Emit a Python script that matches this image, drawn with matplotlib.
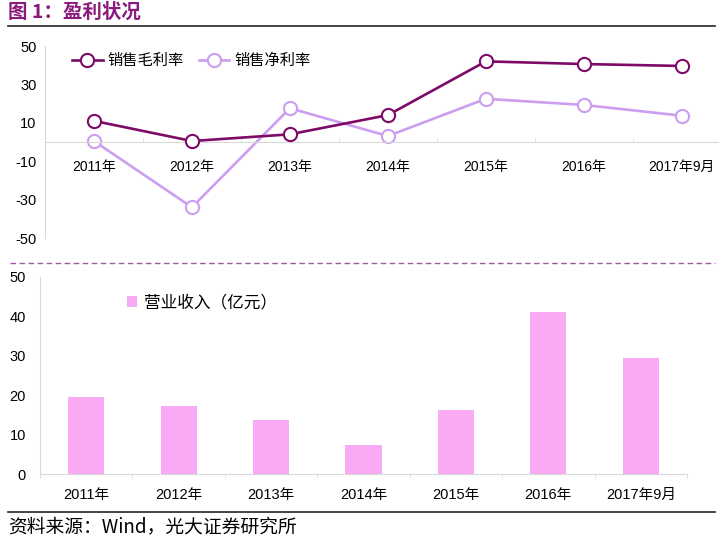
import matplotlib
matplotlib.use("Agg")
import matplotlib.pyplot as plt
from matplotlib.lines import Line2D
import numpy as np

plt.rcParams['font.family'] = ['Liberation Sans', 'Noto Sans CJK SC', 'DejaVu Sans']
plt.rcParams['axes.unicode_minus'] = False

years = ["2011年", "2012年", "2013年", "2014年", "2015年", "2016年", "2017年9月"]
gross_margin = [11.0, 0.5, 4.0, 14.0, 42.0, 40.6, 39.6]
net_margin = [0.5, -34.0, 17.6, 3.1, 22.5, 19.3, 13.7]
revenue = [19.5, 17.3, 13.8, 7.3, 16.3, 41.0, 29.4]

dark = "#7e0a67"
light = "#cd9ef0"
pink = "#f9aaf4"
grid_gray = "#d9d9d9"
cjk = ['Noto Sans CJK SC', 'DejaVu Sans']

fig = plt.figure(figsize=(7.2, 5.41), dpi=100)
W, H = 720, 541

def px_axes(x0, y0, x1, y1):
    return fig.add_axes([x0 / W, 1 - y1 / H, (x1 - x0) / W, (y1 - y0) / H])

# title and separators
fig.text(8 / W, 1 - 12 / H, "图 1：盈利状况", color="#8a1a7c", fontsize=14,
         fontweight="bold", family=cjk, va="center", ha="left")
fig.add_artist(Line2D([8 / W, 715 / W], [1 - 26 / H] * 2, color="#222222", lw=1.2))
fig.add_artist(Line2D([10 / W, 715 / W], [1 - 263 / H] * 2, color="#a05aa0", lw=1.0,
                      linestyle=(0, (4, 2.5))))
fig.add_artist(Line2D([8 / W, 715 / W], [1 - 512 / H] * 2, color="#222222", lw=1.2))
fig.text(8 / W, 1 - 527 / H, "资料来源：Wind，光大证券研究所", fontsize=13.5,
         family=cjk, va="center", ha="left")

x = np.arange(len(years))

# top chart: margins
ax1 = px_axes(45, 46, 718, 238)
ax1.plot(x, gross_margin, color=dark, lw=1.9, marker="o", ms=9.5,
         mfc="white", mec=dark, mew=1.5, label="销售毛利率", zorder=3)
ax1.plot(x, net_margin, color=light, lw=1.9, marker="o", ms=9.5,
         mfc="white", mec=light, mew=1.5, label="销售净利率", zorder=2)
ax1.set_xlim(-0.5, 6.37)
ax1.set_ylim(-50, 50)
ax1.set_yticks([50, 30, 10, -10, -30, -50])
for s in ["top", "right"]:
    ax1.spines[s].set_visible(False)
ax1.spines["left"].set_color(grid_gray)
ax1.spines["bottom"].set_position(("data", 0))
ax1.spines["bottom"].set_color(grid_gray)
ax1.set_xticks(x)
ax1.set_xticklabels(years)
ax1.set_xticks(np.arange(-0.5, 6.5, 1), minor=True)
ax1.tick_params(axis="x", which="major", length=0, pad=13, labelsize=10)
ax1.tick_params(axis="x", which="minor", direction="in", length=3, color=grid_gray)
ax1.tick_params(axis="y", length=0, pad=6, labelsize=10.5)
ax1.legend(loc="upper left", bbox_to_anchor=(0.02, 1.04), ncol=2, frameon=False,
           prop={"family": cjk, "size": 11}, handlelength=2.0, columnspacing=1.0,
           handletextpad=0.3)

# bottom chart: revenue
ax2 = px_axes(40, 277, 687, 474)
ax2.bar(x, revenue, width=0.39, color=pink, label="营业收入（亿元）")
ax2.set_xlim(-0.5, 6.5)
ax2.set_ylim(0, 50)
ax2.set_yticks([0, 10, 20, 30, 40, 50])
for s in ["top", "right"]:
    ax2.spines[s].set_visible(False)
ax2.spines["left"].set_color(grid_gray)
ax2.spines["bottom"].set_color(grid_gray)
ax2.set_xticks(x)
ax2.set_xticklabels(years)
ax2.set_xticks(np.arange(-0.5, 7.0, 1), minor=True)
ax2.tick_params(axis="x", which="major", length=0, pad=10, labelsize=10.5)
ax2.tick_params(axis="x", which="minor", direction="out", length=3, color=grid_gray)
ax2.tick_params(axis="y", length=0, pad=10, labelsize=10.5)
ax2.legend(loc="center left", bbox_to_anchor=(0.135, 0.868), frameon=False,
           borderpad=0, borderaxespad=0,
           prop={"family": cjk, "size": 12}, handlelength=0.6, handleheight=0.6,
           handletextpad=0.4)

fig.savefig("out.png", dpi=100)
